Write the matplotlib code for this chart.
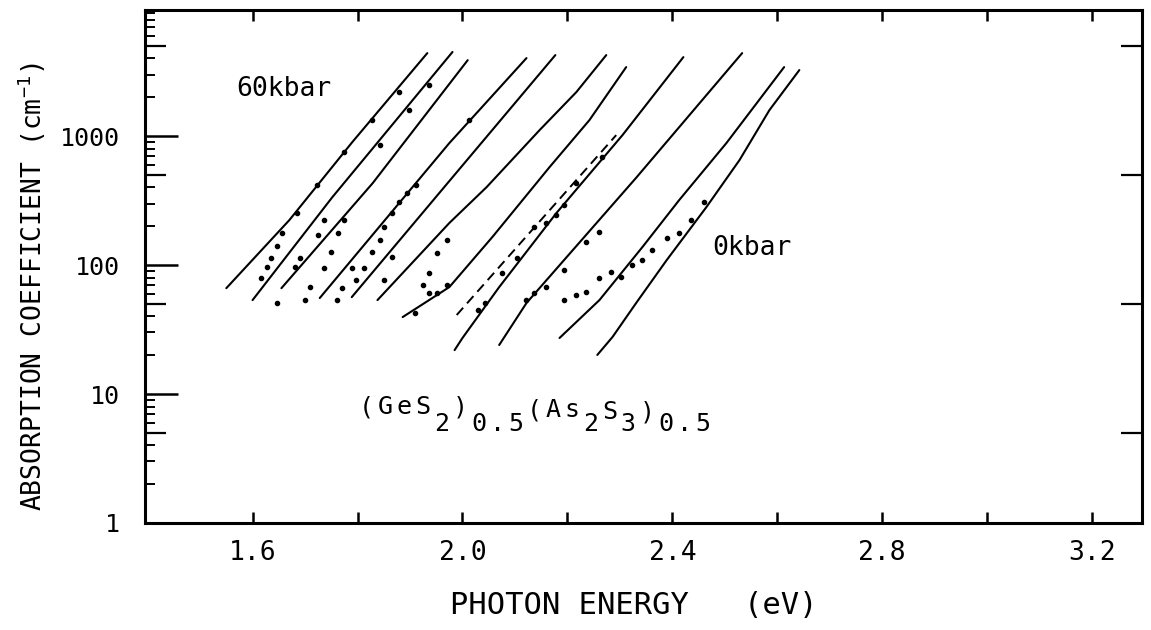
import matplotlib
matplotlib.use("Agg")
import matplotlib.pyplot as plt
from matplotlib.ticker import FixedLocator, NullFormatter, FixedFormatter

plt.rcParams['font.family'] = ['DejaVu Sans Mono']
plt.rcParams['mathtext.fontset'] = 'custom'
plt.rcParams['mathtext.rm'] = 'DejaVu Sans Mono'
plt.rcParams['mathtext.it'] = 'DejaVu Sans Mono'

# absorption edges, 60 kbar (left) down to 0 kbar (right)
edge_x = [
    [1.550, 1.670, 1.790, 1.933],
    [1.600, 1.752, 1.981],
    [1.655, 1.829, 2.010],
    [1.728, 1.975, 2.122],
    [1.789, 1.983, 2.177],
    [1.838, 1.975, 2.046, 2.147, 2.217, 2.274],
    [1.886, 1.975, 2.057, 2.166, 2.242, 2.312],
    [1.985, 2.000, 2.070, 2.179, 2.305, 2.421],
    [2.070, 2.122, 2.330, 2.533],
    [2.185, 2.261, 2.343, 2.413, 2.503, 2.613],
    [2.257, 2.286, 2.331, 2.389, 2.465, 2.528, 2.585, 2.642],
]
edge_y = [
    [66.2, 223, 898, 4400],
    [53.5, 336, 4490],
    [66.2, 432, 3880],
    [55.5, 883, 4025],
    [56.4, 490, 4246],
    [53.5, 212, 402, 1113, 2193, 4246],
    [39.5, 67.5, 165, 575, 1331, 3428],
    [21.9, 27.2, 67.5, 253, 1018, 4096],
    [24.0, 50.8, 470, 4400],
    [27.2, 53.5, 138, 319, 883, 3428],
    [20.1, 27.7, 50.8, 109, 282, 652, 1591, 3250],
]

# partly resolved edge, drawn dashed until it joins its neighbour
dash_x = [1.989, 2.293]
dash_y = [41, 1018]

# measured points
dot_x = [1.617, 1.627, 1.636, 1.646, 1.657, 1.684, 1.722, 1.775, 1.827, 1.880,
         1.646, 1.680, 1.690, 1.709, 1.724, 1.737, 1.842, 1.899, 1.937,
         1.699, 1.737, 1.750, 1.762, 1.775,
         1.760, 1.771, 1.789, 1.813, 1.798, 1.827, 1.842, 1.851, 1.865,
         1.851, 1.865, 1.880, 1.895, 1.912, 2.013,
         1.909, 1.924, 1.937, 1.952, 1.970, 1.937, 1.952, 1.970,
         2.029, 2.042, 2.076, 2.103, 2.137, 2.160, 2.179, 2.194, 2.217, 2.265,
         2.122, 2.137, 2.160, 2.194, 2.236, 2.261,
         2.194, 2.217, 2.236, 2.261, 2.284, 2.303, 2.324, 2.343, 2.362, 2.389,
         2.413, 2.436, 2.461]
dot_y = [79.3, 96.5, 113, 140, 177, 253, 417, 752, 1331, 2193,
         50.8, 96.5, 113, 67.3, 170, 223, 850, 1594, 2490,
         53.5, 94.8, 126, 177, 223,
         53.5, 66.0, 94.8, 94.8, 76.5, 126, 156, 197, 253,
         76.5, 115, 308, 362, 417, 1331,
         42.5, 69.8, 86.7, 124, 156, 60.7, 60.7, 69.8,
         44.9, 50.8, 86.7, 113, 197, 211, 243, 292, 430, 687,
         53.5, 60.7, 67.3, 91.4, 150, 180,
         53.5, 58.5, 61.8, 79.4, 88.3, 80.6, 100, 109, 130, 162,
         177, 223, 308]

x_ticks = [1.6, 1.8, 2.0, 2.2, 2.4, 2.6, 2.8, 3.0, 3.2]
x_labels = ['1.6', '', '2.0', '', '2.4', '', '2.8', '', '3.2']
y_major = [1, 10, 100, 1000]
y_labels = ['1', '10', '100', '1000']
y_minor = [2, 3, 4, 6, 7, 8, 9, 20, 30, 40, 60, 70, 80, 90,
           200, 300, 400, 600, 700, 800, 900, 2000, 3000, 4000, 6000, 7000, 8000, 9000]
y_mid = [5, 50, 500, 5000]

W, H = 1151, 630
fig = plt.figure(figsize=(W / 100, H / 100), dpi=100)
ax = fig.add_axes([145 / W, 1 - 523 / H, (1142 - 145) / W, (523 - 10) / H])
ax.set_yscale('log')
ax.set_xlim(1.395, 3.295)
ax.set_ylim(1, 9500)

for xs, ys in zip(edge_x, edge_y):
    ax.plot(xs, ys, color='black', lw=1.5, solid_capstyle='round',
            solid_joinstyle='round')
ax.plot(dash_x, dash_y, color='black', lw=1.4, ls=(0, (5, 3)))
ax.plot(dot_x, dot_y, ls='none', marker='o', ms=3.0, color='black')

for s in ax.spines.values():
    s.set_linewidth(2.2)

ax.xaxis.set_major_locator(FixedLocator(x_ticks))
ax.xaxis.set_major_formatter(FixedFormatter(x_labels))
ax.xaxis.set_minor_locator(FixedLocator([]))
ax.yaxis.set_major_locator(FixedLocator(y_major))
ax.yaxis.set_major_formatter(FixedFormatter(y_labels))
ax.yaxis.set_minor_locator(FixedLocator(y_minor))
ax.yaxis.set_minor_formatter(NullFormatter())
ax.tick_params(axis='x', which='major', direction='in', top=True, length=8, width=1.8,
               labelsize=19, pad=12)
ax.tick_params(axis='y', which='major', direction='in', right=True, length=24, width=1.8,
               labelsize=18, pad=18)
ax.tick_params(axis='y', which='minor', direction='in', right=True, length=7, width=1.4)

# half-decade ticks, longer than the other minor ticks
ax2 = ax.twinx()
ax2.set_yscale('log')
ax2.set_ylim(ax.get_ylim())
ax2.yaxis.set_major_locator(FixedLocator(y_mid))
ax2.yaxis.set_minor_locator(FixedLocator([]))
ax2.yaxis.set_major_formatter(NullFormatter())
ax2.tick_params(axis='y', which='major', direction='in', left=True, right=True,
                length=15, width=1.6, labelleft=False, labelright=False)
for s in ax2.spines.values():
    s.set_visible(False)

fig.text(32 / W, 1 - 287 / H, 'ABSORPTION COEFFICIENT (cm$^{-1}$)', rotation=90,
         ha='center', va='center', fontsize=19)
fig.text(450 / W, 1 - 606 / H, 'PHOTON ENERGY   (eV)', ha='left', va='center', fontsize=22)

ax.text(1.568, 2300, '60kbar', fontsize=19, ha='left', va='center')
ax.text(2.476, 135, '0kbar', fontsize=19, ha='left', va='center')

# composition label, typewriter-spaced with lowered subscripts
formula = [('(GeS', 0), ('2', 1), (')', 0), ('0.5', 1), ('(As', 0.2), ('2', 1),
           ('S', 0.3), ('3', 1), (')', 0.3), ('0.5', 1)]
adv = 18.7
x0, y0 = 357, 407
i = 0
for seg, low in formula:
    for ch in seg:
        fig.text((x0 + i * adv + adv / 2) / W, 1 - (y0 + low * 17) / H, ch,
                 ha='center', va='center', fontsize=18)
        i += 1

fig.savefig('out.png', dpi=100)
